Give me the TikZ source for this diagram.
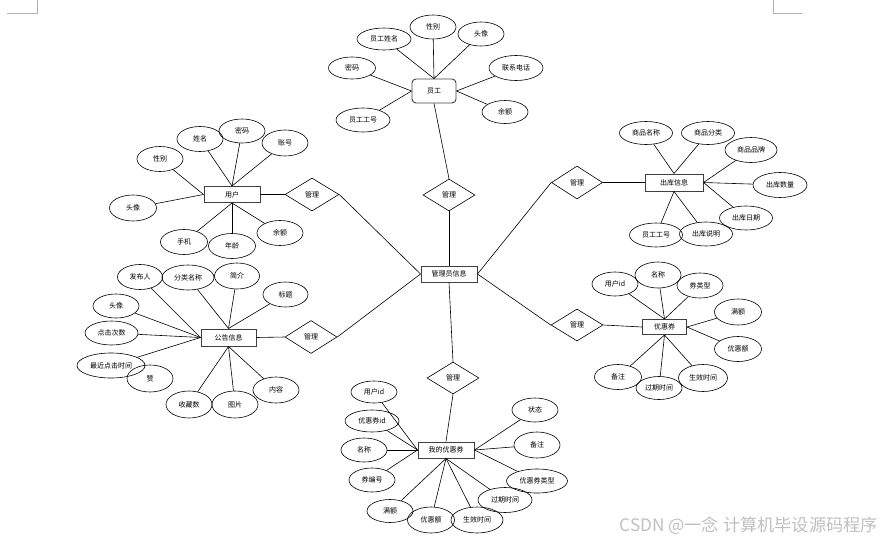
\documentclass[tikz,border=0pt]{standalone}
\usepackage{fontspec}
\newfontfamily\cjk{Noto Sans CJK SC}
\usetikzlibrary{shapes.geometric}
\tikzset{
  base/.style={font=\cjk\fontsize{7}{8}\selectfont, inner sep=0pt, text=black},
  attr/.style={base, ellipse, draw, line width=0.6pt, minimum width=46pt, minimum height=25pt},
  attrw/.style={attr, minimum width=54pt, minimum height=24pt},
  attrww/.style={attr, minimum width=61pt, minimum height=24pt},
  attrxw/.style={attr, minimum width=68pt, minimum height=25pt},
  entity/.style={base, rectangle, draw=black!75, line width=1pt, minimum width=56pt, minimum height=16pt},
  rel/.style={base, diamond, draw, line width=0.6pt, minimum width=52pt, minimum height=32pt},
  link/.style={line width=0.6pt},
  cornermark/.style={draw=black!30, line width=0.6pt}
}
\begin{document}
\begin{tikzpicture}[x=1pt,y=-1pt]
\useasboundingbox (0,0) rectangle (881,541);
% corner marks
\draw[cornermark] (37,0) -- (37,13) -- (7,13);
\draw[cornermark] (773,0) -- (773,13) -- (802,13);

% central
\node[entity] (adm) at (449,274) {管理员信息};

% ---------- employee
\node[entity, rounded corners=4pt, minimum width=44pt, minimum height=24pt, line width=0.9pt] (emp) at (434,91) {员工};
\node[attrw, minimum height=22pt] (e1) at (384,39) {员工姓名};
\node[attr, minimum height=24pt] (e2) at (433,27) {性别};
\node[attr, minimum height=24pt] (e3) at (481,34) {头像};
\node[attrw, minimum height=25pt] (e4) at (516,68) {联系电话};
\node[attr, minimum width=47pt, minimum height=22pt] (e5) at (352,68) {密码};
\node[attr, minimum height=23pt] (e6) at (505,112) {余额};
\node[attrw] (e7) at (363,120) {员工工号};
\foreach \n in {e1,e2,e3} \draw[link] (\n) -- (emp.north);
\foreach \n in {e4,e6} \draw[link] (\n) -- (emp.east);
\foreach \n in {e5,e7} \draw[link] (\n) -- (emp.west);
\node[rel] (d1) at (449,195) {管理};
\draw[link] (emp.south) -- (d1.north);
\draw[link] (d1.south) -- (adm.north);

% ---------- user
\node[entity] (usr) at (232,194.5) {用户};
\node[rel, minimum width=54pt, minimum height=33pt] (d2) at (312,194.5) {管理};
\node[attr] (u1) at (160,159) {性别};
\node[attr] (u2) at (200,139) {姓名};
\node[attr, minimum height=24pt] (u3) at (242,131) {密码};
\node[attr, minimum height=26pt] (u4) at (285,143) {账号};
\node[attr, minimum width=47pt, minimum height=26pt] (u5) at (133,208) {头像};
\node[attr, minimum width=47pt] (u6) at (184,242) {手机};
\node[attr, minimum width=47pt] (u7) at (232,246) {年龄};
\node[attr] (u8) at (280,233) {余额};
\foreach \n in {u1,u5} \draw[link] (\n) -- (usr.west);
\foreach \n in {u2,u3,u4} \draw[link] (\n) -- (usr.north);
\foreach \n in {u6,u7,u8} \draw[link] (\n) -- (usr.south);
\draw[link] (usr.east) -- (d2.west);
\draw[link] (d2.east) -- (adm.west);

% ---------- notice
\node[entity, minimum width=55pt, minimum height=17pt] (ntc) at (228.5,337.5) {公告信息};
\node[rel, minimum height=33pt] (d3) at (311,337) {管理};
\node[attr, minimum width=45pt] (n1) at (140,277) {发布人};
\node[attr, minimum width=52pt] (n2) at (188,277.5) {分类名称};
\node[attr, minimum width=45pt, minimum height=26pt] (n3) at (237,276) {简介};
\node[attr, minimum width=45pt] (n4) at (285.5,294.5) {标题};
\node[attr, minimum height=24pt] (n5) at (116,306) {头像};
\node[attr, minimum width=53pt, minimum height=24pt] (n6) at (111.5,333) {点击次数};
\node[attrxw] (n7) at (111,365.5) {最近点击时间};
\node[attr, minimum height=27pt] (n8) at (150,378.5) {赞};
\node[attr, minimum height=27pt] (n9) at (189,404.5) {收藏数};
\node[attr, minimum height=27pt] (n10) at (235,404.5) {图片};
\node[attr, minimum height=26pt] (n11) at (276,390) {内容};
\foreach \n in {n1,n5,n6,n7} \draw[link] (\n) -- (ntc.west);
\foreach \n in {n2,n3,n4} \draw[link] (\n) -- (ntc.north);
\foreach \n in {n9,n10,n11} \draw[link] (\n) -- (ntc.south);
\draw[link] (ntc.east) -- (d3.west);
\draw[link] (d3.east) -- (adm.west);

% ---------- outbound
\node[entity, minimum width=58pt, minimum height=17pt] (out) at (674,182.5) {出库信息};
\node[rel, minimum width=51pt, minimum height=33pt] (d4) at (577,182.5) {管理};
\node[attr, minimum width=53pt, minimum height=23pt] (o1) at (646,133) {商品名称};
\node[attr, minimum width=53pt, minimum height=23pt] (o2) at (708,133) {商品分类};
\node[attr, minimum width=52pt] (o3) at (751,150) {商品品牌};
\node[attr, minimum width=54pt] (o4) at (780,185) {出库数量};
\node[attr, minimum width=53pt, minimum height=24pt] (o5) at (746,218) {出库日期};
\node[attr, minimum width=53pt, minimum height=24pt] (o7) at (656,235) {员工工号};
\node[attr, minimum width=53pt, minimum height=24pt] (o6) at (706,234) {出库说明};
\foreach \n in {o1,o2} \draw[link] (\n) -- (out.north);
\foreach \n in {o3,o4,o5} \draw[link] (\n) -- (out.east);
\foreach \n in {o6,o7} \draw[link] (\n) -- (out.south);
\draw[link] (adm.east) -- (d4.west);
\draw[link] (d4.east) -- (out.west);

% ---------- coupon
\node[entity, minimum width=44pt, minimum height=15pt] (cpn) at (664.5,327) {优惠券};
\node[rel] (d5) at (577,325) {管理};
\node[attr, minimum height=24pt] (c1) at (615,284) {用户id};
\node[attr, minimum height=26pt] (c2) at (658,275) {名称};
\node[attr] (c3) at (700,285.5) {券类型};
\node[attr, minimum width=47pt, minimum height=26pt] (c4) at (738,312) {满额};
\node[attr, minimum width=47pt] (c5) at (738,349) {优惠额};
\node[attr, minimum width=49pt, minimum height=27pt] (c6) at (703,378) {生效时间};
\node[attr, minimum height=23pt] (c7) at (659,388) {过期时间};
\node[attr, minimum width=47pt] (c8) at (618,377) {备注};
\foreach \n in {c1,c2,c3} \draw[link] (\n) -- (cpn.north);
\foreach \n in {c4,c5} \draw[link] (\n) -- (cpn.east);
\foreach \n in {c6,c7,c8} \draw[link] (\n) -- (cpn.south);
\draw[link] (adm.east) -- (d5.west);
\draw[link] (d5.east) -- (cpn.west);

% ---------- my coupon
\node[entity] (my) at (446,450) {我的优惠券};
\node[rel] (d6) at (453,378) {管理};
\node[attr, minimum height=22pt] (m1) at (374,392) {用户id};
\node[attrw, minimum height=22pt] (m2) at (372,421) {优惠券id};
\node[attr, minimum height=24pt] (m3) at (364,450) {名称};
\node[attr, minimum height=24pt] (m4) at (372,480) {券编号};
\node[attr, minimum height=23pt] (m5) at (390,511) {满额};
\node[attr, minimum width=47pt, minimum height=26pt] (m6) at (431,520) {优惠额};
\node[attr, minimum width=52pt, minimum height=26pt] (m7) at (477,520) {生效时间};
\node[attrw, minimum height=25pt] (m8) at (505,500) {过期时间};
\node[attrww] (m9) at (537,481) {优惠券类型};
\node[attr, minimum height=26pt] (m10) at (537,445) {备注};
\node[attr, minimum height=24pt] (m11) at (535,410) {状态};
\foreach \n in {m1,m2,m3,m4} \draw[link] (\n) -- (my.west);
\foreach \n in {m5,m6,m7,m8} \draw[link] (\n) -- (my.south);
\foreach \n in {m9,m10,m11} \draw[link] (\n) -- (my.east);
\draw[link] (adm.south) -- (d6.north);
\draw[link] (d6.south) -- (my.north);

% watermark
\node[font=\cjk\fontsize{17.2}{19}\selectfont, text=black!25, inner sep=0pt, anchor=east] (wm) at (878,526) {CSDN @一念 计算机毕设源码程序};
\end{tikzpicture}
\end{document}
